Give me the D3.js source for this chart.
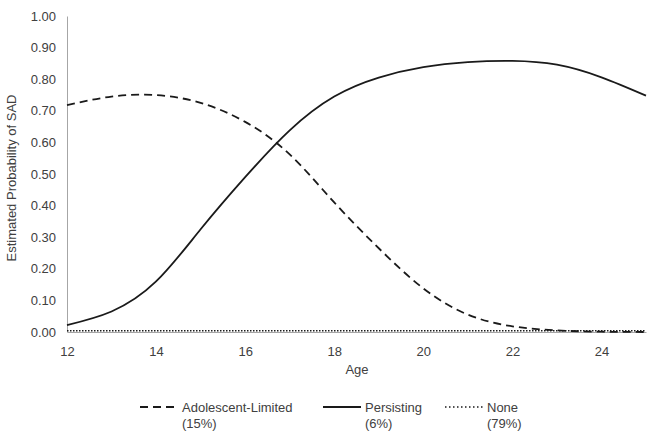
<!DOCTYPE html>
<html><head><meta charset="utf-8">
<script src="https://cdn.jsdelivr.net/npm/d3@7"></script>
<style>body{margin:0;background:#fff}svg{display:block}text{font-family:"Liberation Sans",Arial,sans-serif;fill:#404040}</style>
</head><body><svg id="c" width="647" height="445"></svg>
<script>
const ages = [12,13,14,15,16,17,18,19,20,21,22,23,24,25];
const adolescentLimited = [0.718,0.745,0.750,0.725,0.665,0.562,0.410,0.265,0.138,0.055,0.018,0.005,0.001,0.000];
const persisting = [0.022,0.065,0.160,0.325,0.490,0.638,0.745,0.805,0.838,0.854,0.858,0.846,0.806,0.748];
const none = [0.004,0.004,0.004,0.004,0.004,0.004,0.004,0.004,0.004,0.004,0.004,0.004,0.004,0.004];
const yTicks = [0,0.1,0.2,0.3,0.4,0.5,0.6,0.7,0.8,0.9,1.0];
const xTicks = [12,14,16,18,20,22,24];
const seriesNames = ["Adolescent-Limited","Persisting","None"];
const seriesPct = ["(15%)","(6%)","(79%)"];

const svg = d3.select("#c");
const x = d3.scaleLinear().domain([12,25]).range([67,646]);
const y = d3.scaleLinear().domain([0,1]).range([332,16]);

const ya = svg.append("g").attr("transform","translate(67,0)")
  .call(d3.axisLeft(y).tickValues(yTicks).tickFormat(d3.format(".2f")).tickSize(0).tickPadding(11));
ya.select(".domain").attr("stroke","#a6a6a6");
ya.selectAll("text").style("font-size","13px").attr("fill","#404040");
const xa = svg.append("g").attr("transform","translate(0,332)")
  .call(d3.axisBottom(x).tickValues(xTicks).tickFormat(d3.format("d")).tickSize(0).tickPadding(15));
xa.select(".domain").attr("stroke","#a6a6a6");
xa.selectAll("text").style("font-size","13px").attr("fill","#404040");

svg.append("text").attr("x",357).attr("y",374).attr("text-anchor","middle").style("font-size","13px").text("Age");
svg.append("text").attr("transform","translate(16,178) rotate(-90)").attr("text-anchor","middle").style("font-size","13px").text("Estimated Probability of SAD");

const styles = [
  {data: adolescentLimited, dash: "8,5", w: 1.8, legDash: "8,5"},
  {data: persisting, dash: null, w: 1.8, legDash: null},
  {data: none, dash: "1.5,1.5", w: 1.6, legDash: "1.5,2.5"}
];
const line = d3.line().x((d,i)=>x(ages[i])).y(d=>y(d)).curve(d3.curveNatural);
const plot = svg.append("g");
styles.forEach(s=>{
  plot.append("path").datum(s.data).attr("d",line).attr("fill","none")
    .attr("stroke","#1a1a1a").attr("stroke-width",s.w).attr("stroke-dasharray",s.dash);
});

const legX = [140,323,445];
const legG = svg.append("g");
styles.forEach((s,i)=>{
  legG.append("line").attr("x1",legX[i]).attr("x2",legX[i]+38).attr("y1",407).attr("y2",407)
    .attr("stroke","#1a1a1a").attr("stroke-width",s.w).attr("stroke-dasharray",s.legDash);
  legG.append("text").attr("x",legX[i]+42).attr("y",412).style("font-size","13px").text(seriesNames[i]);
  legG.append("text").attr("x",legX[i]+42).attr("y",428).style("font-size","13px").text(seriesPct[i]);
});
</script></body></html>
